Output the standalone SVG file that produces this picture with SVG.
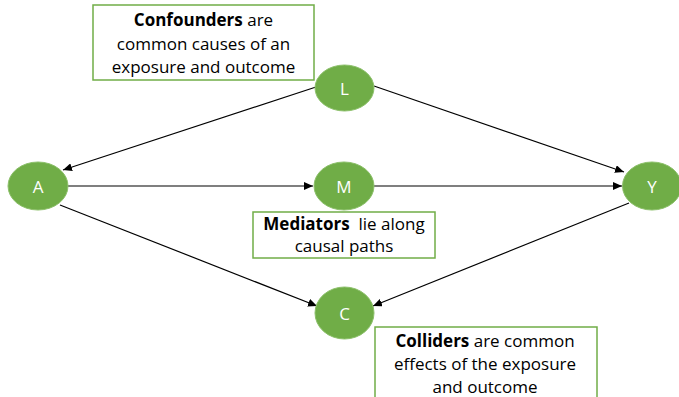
<svg xmlns="http://www.w3.org/2000/svg" width="679" height="397" viewBox="0 0 679 397">
<style>
.node{fill:#70AD47;stroke:#8cc06a;stroke-width:1}
.nt{fill:#fff;font-family:"Open Sans","Liberation Sans",sans-serif;font-size:17px;text-anchor:middle;dominant-baseline:central}
.box{fill:#fff;stroke:#70AD47;stroke-width:1.5}
.bt{fill:#000;font-family:"Open Sans","Liberation Sans",sans-serif;font-size:17px;text-anchor:middle;dominant-baseline:central}
.bt tspan.b{font-weight:bold}
.edge{stroke:#000;stroke-width:1.2;fill:none;marker-end:url(#ah)}
</style>
<defs>
<marker id="ah" viewBox="0 0 10 10" refX="10" refY="5" markerWidth="9" markerHeight="8" markerUnits="userSpaceOnUse" orient="auto" preserveAspectRatio="none">
<path d="M0,0 L10,5 L0,10 z" fill="#000"/>
</marker>
</defs>
<rect width="679" height="397" fill="#fff"/>
<g id="connectors">
<line class="edge" x1="316" y1="87" x2="63" y2="170"/>
<line class="edge" x1="374" y1="86" x2="624" y2="172"/>
<line class="edge" x1="68" y1="186" x2="313" y2="186"/>
<line class="edge" x1="374" y1="186" x2="622" y2="186"/>
<line class="edge" x1="60" y1="205" x2="317" y2="306"/>
<line class="edge" x1="629" y1="203" x2="373" y2="306"/>
</g>
<g id="box-confounders">
<rect class="box" x="93" y="5" width="221" height="75"/>
<text class="bt" x="203.5" y="19"><tspan class="b">Confounders</tspan> are</text>
<text class="bt" x="203.5" y="43">common causes of an</text>
<text class="bt" x="203.5" y="66">exposure and outcome</text>
</g>
<g id="box-mediators">
<rect class="box" x="253" y="212" width="182" height="46"/>
<text class="bt" x="344" y="223"><tspan class="b">Mediators</tspan>&#160; lie along</text>
<text class="bt" x="344" y="245">causal paths</text>
</g>
<g id="box-colliders">
<rect class="box" x="375" y="327" width="222" height="80"/>
<text class="bt" x="485" y="340"><tspan class="b">Colliders</tspan> are common</text>
<text class="bt" x="485" y="363">effects of the exposure</text>
<text class="bt" x="485" y="386">and outcome</text>
</g>
<g id="node-L">
<ellipse class="node" cx="344.5" cy="88" rx="29.5" ry="23"/>
<text class="nt" x="344.5" y="88">L</text>
</g>
<g id="node-A">
<ellipse class="node" cx="38" cy="186" rx="30" ry="24"/>
<text class="nt" x="38" y="186">A</text>
</g>
<g id="node-M">
<ellipse class="node" cx="344" cy="186" rx="30" ry="24"/>
<text class="nt" x="344" y="186">M</text>
</g>
<g id="node-Y">
<ellipse class="node" cx="652" cy="186" rx="29.5" ry="24"/>
<text class="nt" x="652" y="186">Y</text>
</g>
<g id="node-C">
<ellipse class="node" cx="344.5" cy="313" rx="29.5" ry="26"/>
<text class="nt" x="344.5" y="313">C</text>
</g>
</svg>
